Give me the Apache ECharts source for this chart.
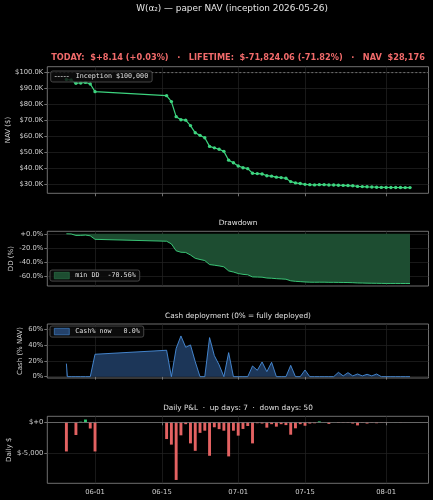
<!DOCTYPE html>
<html>
<head>
<meta charset="utf-8">
<script src="https://cdn.jsdelivr.net/npm/echarts@6/dist/echarts.min.js"></script>
<style>
  html, body { margin: 0; padding: 0; background: #000; }
  #chart { width: 433px; height: 500px; }
</style>
</head>
<body>
<div id="chart"></div>
<script>
// daily snapshots (NAV, drawdown, P&L share these dates)
const dates = [
  '2026-05-26','2026-05-27','2026-05-28','2026-05-29','2026-05-30','2026-05-31','2026-06-01',
  '2026-06-16','2026-06-17','2026-06-18','2026-06-19','2026-06-20','2026-06-21','2026-06-22',
  '2026-06-23','2026-06-24','2026-06-25','2026-06-26','2026-06-27','2026-06-28','2026-06-29','2026-06-30',
  '2026-07-01','2026-07-02','2026-07-03','2026-07-04','2026-07-05','2026-07-06','2026-07-07','2026-07-08',
  '2026-07-09','2026-07-10','2026-07-11','2026-07-12','2026-07-13','2026-07-14','2026-07-15','2026-07-16',
  '2026-07-17','2026-07-18','2026-07-19','2026-07-20','2026-07-21','2026-07-22','2026-07-23','2026-07-24',
  '2026-07-25','2026-07-26','2026-07-27','2026-07-28','2026-07-29','2026-07-30','2026-07-31',
  '2026-08-01','2026-08-02','2026-08-03','2026-08-04','2026-08-05','2026-08-06'
];

const nav = [
  95700, 95400, 93400, 93500, 93900, 92900, 88100,
  85600, 81900, 72500, 70600, 70300, 66900, 62400,
  60800, 59300, 53900, 53000, 52100, 50800, 45300, 43700,
  41700, 40600, 40000, 37100, 36900, 36700, 35600, 35300,
  34700, 34400, 34000, 31900, 31100, 30700, 30200, 30000,
  29850, 30000, 30000, 29800, 29800, 29650, 29550, 29450,
  29300, 28900, 28800, 28650, 28550, 28400, 28300,
  28250, 28220, 28220, 28190, 28168, 28176
];

const drawdown = [
  0, -0.3, -2.4, -2.3, -1.9, -2.9, -7.9,
  -10.6, -14.4, -24.2, -26.2, -26.5, -30.1, -34.8,
  -36.5, -38.0, -43.7, -44.6, -45.6, -46.9, -52.7, -54.3,
  -56.4, -57.6, -58.2, -61.2, -61.4, -61.6, -62.8, -63.1,
  -63.7, -64.1, -64.5, -66.7, -67.5, -67.9, -68.4, -68.7,
  -68.8, -68.7, -68.7, -68.9, -68.9, -69.0, -69.1, -69.2,
  -69.4, -69.8, -69.9, -70.1, -70.2, -70.3, -70.4,
  -70.5, -70.5, -70.5, -70.54, -70.57, -70.56
];

const pnl = [
  -4700, 0, -2050, 100, 450, -1000, -4700,
  -2700, -3600, -9300, -2100, -300, -3400, -4600,
  -1700, -1350, -5400, -800, -1100, -1350, -5500, -1350,
  -2150, -1070, -600, -3400, -150, -200, -860, -300,
  -700, -300, -450, -2000, -970, -300, -550, -200,
  -150, 150, 20, -250, 10, -100, -80, -100,
  -200, -500, -90, -200, -80, -150, -60,
  -50, 0, 20, -40, -12, 8.14
];

// cash snapshots (first day has two)
const cashDates = [
  '2026-05-26T00:00:00Z','2026-05-26T05:00:00Z',
  '2026-05-27','2026-05-28','2026-05-29','2026-05-30','2026-05-31','2026-06-01',
  '2026-06-16','2026-06-17','2026-06-18','2026-06-19','2026-06-20','2026-06-21','2026-06-22',
  '2026-06-23','2026-06-24','2026-06-25','2026-06-26','2026-06-27','2026-06-28','2026-06-29','2026-06-30',
  '2026-07-01','2026-07-02','2026-07-03','2026-07-04','2026-07-05','2026-07-06','2026-07-07','2026-07-08',
  '2026-07-09','2026-07-10','2026-07-11','2026-07-12','2026-07-13','2026-07-14','2026-07-15','2026-07-16',
  '2026-07-17','2026-07-18','2026-07-19','2026-07-20','2026-07-21','2026-07-22','2026-07-23','2026-07-24',
  '2026-07-25','2026-07-26','2026-07-27','2026-07-28','2026-07-29','2026-07-30','2026-07-31',
  '2026-08-01','2026-08-02','2026-08-03','2026-08-04','2026-08-05','2026-08-06'
];
const cashPct = [
  16.6, 0,
  0, 0, 0, 0, 0, 28.5,
  33.6, 0, 36.0, 51.8, 37.4, 40.4, 19.0,
  0, 0, 49.7, 26.8, 15.0, 0, 30.6, 0,
  0, 0, 0, 13.6, 8.1, 18.7, 6.4, 18.3,
  0, 0, 0, 14.4, 0, 0, 8.5, 0,
  0, 0, 0, 0, 0, 5.5, 1.0, 5.1,
  1.0, 3.4, 1.0, 3.0, 1.0, 3.4, 0,
  0, 0, 0, 0, 0, 0
];

// tick labels
const xTickDates = ['2026-06-01','2026-06-15','2026-07-01','2026-07-15','2026-08-01'];
const navTicks = [30000, 40000, 50000, 60000, 70000, 80000, 90000, 100000];
const ddTicks = [0, -20, -40, -60];
const cashTicks = [0, 20, 40, 60];
const pnlTicks = [0, -5000];

const INCEPTION = 100000;
const headline = 'TODAY:  $+8.14 (+0.03%)   \u00b7   LIFETIME:  $-71,824.06 (-71.82%)   \u00b7   NAV  $28,176';

const ts = s => new Date(s).getTime();
const xTicks = xTickDates.map(ts);
const xMin = Date.UTC(2026, 4, 22);
const xMax = Date.UTC(2026, 7, 9, 21);

const GREEN = '#3dd47f', GREEN_FILL = '#1d4d31';
const BLUE = '#4a8fdc', BLUE_FILL = '#1c3658';
const RED = '#e36262', UP = '#2ecc71';
const FONT = 'DejaVu Sans', MONO = 'DejaVu Sans Mono';
const SPINE = '#8c8c8c', GRID = '#242424', TXT = '#cfcfcf';

const L = 47.3, W = 381.2;
const grids = [
  { top: 66.7, height: 126.6 },
  { top: 231.3, height: 54.7 },
  { top: 324, height: 54 },
  { top: 416.3, height: 67 }
].map(g => Object.assign({
  left: L, width: W, show: true, borderColor: SPINE, borderWidth: 0.8, backgroundColor: '#000',
  containLabel: false, outerBoundsMode: 'none'
}, g));

function pad2(n) { return (n < 10 ? '0' : '') + n; }

function xAxis(i, showLabels) {
  return {
    type: 'value', gridIndex: i, min: xMin, max: xMax,
    axisLine: { show: false },
    axisTick: { show: true, length: 3, lineStyle: { color: SPINE, width: 0.8 }, customValues: xTicks },
    axisLabel: {
      show: showLabels, customValues: xTicks, color: TXT, fontFamily: FONT, fontSize: 6.8, margin: 5,
      formatter: v => { const d = new Date(v); return pad2(d.getUTCMonth() + 1) + '-' + pad2(d.getUTCDate()); }
    },
    splitLine: { show: true, lineStyle: { color: GRID, width: 0.7 } }
  };
}

function yAxis(i, min, max, ticks, fmt, name, gap) {
  return {
    type: 'value', gridIndex: i, min: min, max: max,
    name: name, nameLocation: 'middle', nameRotate: 90, nameGap: gap, nameMoveOverlap: false,
    nameTextStyle: { color: TXT, fontFamily: FONT, fontSize: 7 },
    axisLine: { show: false },
    axisTick: { show: true, length: 3, lineStyle: { color: SPINE, width: 0.8 }, customValues: ticks },
    axisLabel: { customValues: ticks, formatter: fmt, color: TXT, fontFamily: FONT, fontSize: 6.8, margin: 4 },
    splitLine: { show: true, lineStyle: { color: GRID, width: 0.7 } }
  };
}

const legendBase = {
  orient: 'vertical', selectedMode: false,
  backgroundColor: 'rgba(14,14,14,0.82)', borderColor: '#555', borderWidth: 0.8, borderRadius: 2,
  padding: [2, 4, 2, 4], itemGap: 2, itemWidth: 15, itemHeight: 6,
  textStyle: { color: '#e0e0e0', fontFamily: MONO, fontSize: 6.7, padding: [0, 0, 0, 1] }
};

const chart = echarts.init(document.getElementById('chart'), null, { renderer: 'canvas' });

chart.setOption({
  backgroundColor: '#000',
  animation: false,
  grid: grids,
  xAxis: [xAxis(0, false), xAxis(1, false), xAxis(2, false), xAxis(3, true)],
  yAxis: [
    yAxis(0, 24600, 103700, navTicks, v => '$' + (v / 1000).toFixed(1) + 'K', 'NAV ($)', 35.5),
    yAxis(1, -74.1, 3.5, ddTicks, v => (v >= 0 ? '+' : '') + v.toFixed(1) + '%', 'DD (%)', 32.8),
    yAxis(2, -1.7, 67, cashTicks, v => v + '%', 'Cash (% NAV)', 23.8),
    yAxis(3, -9840, 970, pnlTicks, v => v === 0 ? '$+0' : '$' + v.toLocaleString('en-US'), 'Daily $', 34.5)
  ],
  legend: [
    Object.assign({}, legendBase, {
      data: ['Inception $100,000'], left: 50.7, top: 71, itemWidth: 16, itemHeight: 1,
      icon: 'path://M0,0h2v1h-2zM3,0h2v1h-2zM6,0h2v1h-2zM9,0h2v1h-2zM12,0h2v1h-2z',
      itemStyle: { color: '#9a9a9a', borderWidth: 0 }
    }),
    Object.assign({}, legendBase, {
      data: ['min DD  -70.56%'], left: 50, top: 270, icon: 'rect', itemHeight: 6.5,
      itemStyle: { color: GREEN_FILL, borderColor: '#2f7a4c', borderWidth: 0.6 }
    }),
    Object.assign({}, legendBase, {
      data: ['Cash% now   0.0%'], left: 50, top: 326, icon: 'rect', itemHeight: 6.5,
      itemStyle: { color: '#24426b', borderColor: BLUE, borderWidth: 0.6 }
    })
  ],
  graphic: [
    { type: 'text', x: 232, y: 8.5, style: { text: 'W(\u03b1\u2082) \u2014 paper NAV (inception 2026-05-26)', font: '8.9px "DejaVu Sans"', fill: '#e6e6e6', align: 'center', verticalAlign: 'middle', textAlign: 'center', textVerticalAlign: 'middle' } },
    { type: 'text', x: 238, y: 57.5, style: { text: headline, font: 'bold 8.2px "DejaVu Sans"', fill: '#f26b6b', align: 'center', verticalAlign: 'middle', textAlign: 'center', textVerticalAlign: 'middle' } },
    { type: 'text', x: 238, y: 223.3, style: { text: 'Drawdown', font: '7.3px "DejaVu Sans"', fill: '#e0e0e0', align: 'center', verticalAlign: 'middle', textAlign: 'center', textVerticalAlign: 'middle' } },
    { type: 'text', x: 238, y: 315.7, style: { text: 'Cash deployment (0% = fully deployed)', font: '7.3px "DejaVu Sans"', fill: '#e0e0e0', align: 'center', verticalAlign: 'middle', textAlign: 'center', textVerticalAlign: 'middle' } },
    { type: 'text', x: 238, y: 408.3, style: { text: 'Daily P&L  \u00b7  up days: 7  \u00b7  down days: 50', font: '7.3px "DejaVu Sans"', fill: '#e0e0e0', align: 'center', verticalAlign: 'middle', textAlign: 'center', textVerticalAlign: 'middle' } }
  ],
  series: [
    {
      name: 'Inception $100,000', type: 'line', xAxisIndex: 0, yAxisIndex: 0,
      data: [[xMin, INCEPTION], [xMax, INCEPTION]], symbol: 'none', silent: true,
      lineStyle: { color: '#8a8a8a', width: 0.8, type: [2, 2] }, itemStyle: { color: '#8a8a8a' }
    },
    {
      name: 'NAV', type: 'line', xAxisIndex: 0, yAxisIndex: 0,
      data: dates.map((d, i) => [ts(d), nav[i]]),
      symbol: 'circle', symbolSize: 3.4, showAllSymbol: true,
      lineStyle: { color: GREEN, width: 1.2 }, itemStyle: { color: GREEN }
    },
    {
      name: 'min DD  -70.56%', type: 'line', xAxisIndex: 1, yAxisIndex: 1,
      data: dates.map((d, i) => [ts(d), drawdown[i]]), symbol: 'none',
      lineStyle: { color: GREEN, width: 0.9 }, itemStyle: { color: GREEN_FILL },
      areaStyle: { color: GREEN_FILL, opacity: 1 }
    },
    {
      name: 'Cash% now   0.0%', type: 'line', xAxisIndex: 2, yAxisIndex: 2,
      data: cashDates.map((d, i) => [ts(d), cashPct[i]]), symbol: 'none',
      lineStyle: { color: BLUE, width: 0.9 }, itemStyle: { color: BLUE_FILL },
      areaStyle: { color: BLUE_FILL, opacity: 1 }
    },
    {
      name: 'Daily P&L', type: 'bar', xAxisIndex: 3, yAxisIndex: 3, barWidth: 2.9,
      data: dates.map((d, i) => ({ value: [ts(d), pnl[i]], itemStyle: { color: pnl[i] >= 0 ? UP : RED } })),
      markLine: {
        silent: true, symbol: 'none', label: { show: false },
        lineStyle: { color: '#7a7a7a', width: 0.8, type: 'solid' },
        data: [{ yAxis: 0 }]
      }
    }
  ]
});
</script>
</body>
</html>
